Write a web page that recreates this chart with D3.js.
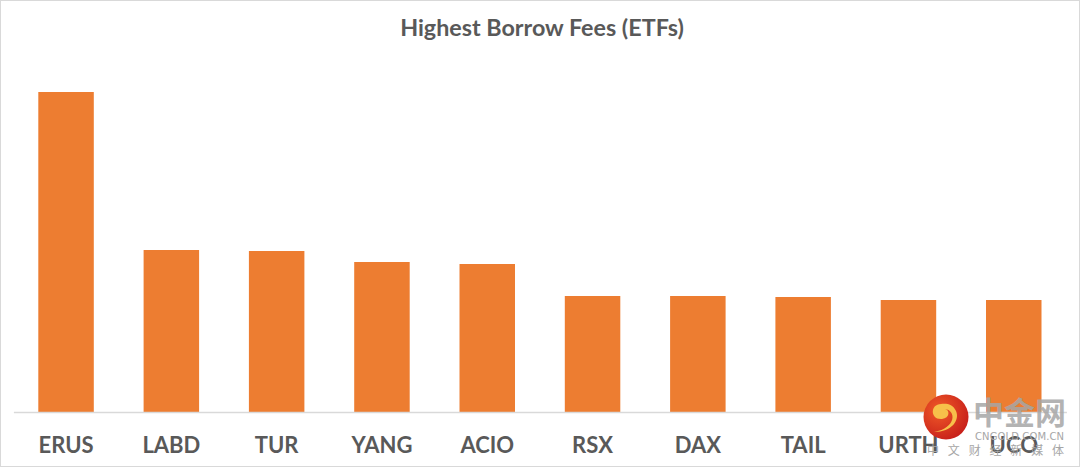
<!DOCTYPE html>
<html>
<head>
<meta charset="utf-8">
<script src="https://cdn.jsdelivr.net/npm/d3@7"></script>
<style>
  body { margin: 0; background: #fff; }
  svg { display: block; }
</style>
</head>
<body>
<script>
var tickers = ["ERUS", "LABD", "TUR", "YANG", "ACIO", "RSX", "DAX", "TAIL", "URTH", "UCO"];
var fees = [32.0, 16.2, 16.1, 15.0, 14.8, 11.6, 11.6, 11.5, 11.2, 11.2];
var title = "Highest Borrow Fees (ETFs)";

var screen = {width: 1080, height: 467};

var svg = d3.select("body")
            .append("svg")
            .attr("width", screen.width)
            .attr("height", screen.height);

// chart area border
svg.append("rect")
   .attr("x", 0.5)
   .attr("y", 0.5)
   .attr("width", screen.width - 1)
   .attr("height", screen.height - 1)
   .attr("fill", "#fff")
   .attr("stroke", "#d9d9d9");

svg.append("text")
   .attr("x", 542)
   .attr("y", 36)
   .attr("text-anchor", "middle")
   .attr("font-family", "Lato, 'Open Sans', sans-serif")
   .attr("font-weight", "bold")
   .attr("font-size", "23.3px")
   .attr("fill", "#595959")
   .text(title);

var x = d3.scaleBand()
          .domain(tickers)
          .range([13.4, 1066.4])
          .paddingInner(0.473)
          .paddingOuter(0.2365);

var y = d3.scaleLinear()
          .domain([0, 35])
          .range([412, 62]);

svg.append("g")
   .selectAll("rect")
   .data(tickers)
   .enter()
   .append("rect")
   .attr("x", function(d) {return x(d);})
   .attr("y", function(d, i) {return y(fees[i]);})
   .attr("width", x.bandwidth())
   .attr("height", function(d, i) {return y(0) - y(fees[i]);})
   .attr("fill", "#ed7d31");

var xAxis = d3.axisBottom(x).tickSize(0).tickPadding(25);

var ax = svg.append("g")
            .attr("transform", "translate(0," + y(0) + ")")
            .call(xAxis);

ax.select(".domain")
  .attr("stroke", "#d9d9d9")
  .attr("stroke-width", 1.3);

ax.selectAll("text")
  .attr("font-family", "Lato, 'Open Sans', sans-serif")
  .attr("font-weight", "bold")
  .attr("font-size", "22px")
  .attr("fill", "#595959");

// watermark in the corner
var defs = svg.append("defs");
var grad = defs.append("radialGradient")
               .attr("id", "logoGrad")
               .attr("cx", "35%")
               .attr("cy", "35%")
               .attr("r", "70%");
grad.append("stop").attr("offset", "0%").attr("stop-color", "#f05a28");
grad.append("stop").attr("offset", "100%").attr("stop-color", "#c8201a");

var wm = svg.append("g").attr("id", "watermark");

wm.append("circle")
  .attr("cx", 946)
  .attr("cy", 417)
  .attr("r", 22.5)
  .attr("fill", "url(#logoGrad)");

wm.append("path")
  .attr("d", "M 941 404 C 930 404 930 420 942 419 C 950 418 950 410 945 409 C 956 410 957 428 934 432 C 952 432 960 420 956 411 C 953 404 946 403 941 404 Z")
  .attr("fill", "#f7c04a");

wm.append("text")
  .attr("x", 973)
  .attr("y", 424)
  .attr("font-family", "'Noto Sans CJK SC', sans-serif")
  .attr("font-weight", "bold")
  .attr("font-size", "31px")
  .attr("fill", "#a6a6a6")
  .attr("fill-opacity", 0.85)
  .text("中金网");

wm.append("text")
  .attr("x", 975)
  .attr("y", 440)
  .attr("textLength", 89)
  .attr("font-family", "'DejaVu Sans', sans-serif")
  .attr("font-size", "10px")
  .attr("fill", "#a6a6a6")
  .text("CNGOLD.COM.CN");

wm.append("text")
  .attr("x", 927)
  .attr("y", 455)
  .attr("textLength", 137)
  .attr("font-family", "'Noto Sans CJK SC', sans-serif")
  .attr("font-size", "12px")
  .attr("fill", "#a6a6a6")
  .text("中文财经新媒体");
</script>
</body>
</html>
